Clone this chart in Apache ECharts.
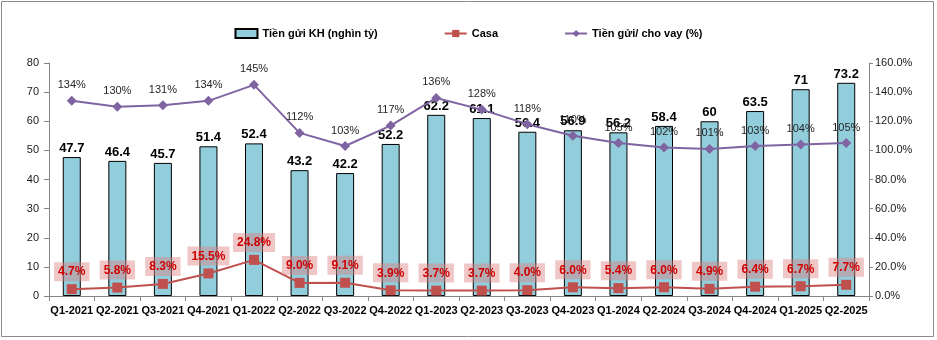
<!DOCTYPE html>
<html>
<head>
<meta charset="utf-8">
<script src="https://cdn.jsdelivr.net/npm/echarts@6/dist/echarts.min.js"></script>
<style>
html,body{margin:0;padding:0;background:#fff;}
#chart{width:937px;height:340px;}
</style>
</head>
<body>
<div id="chart"></div>
<script>
// Quarterly deposits, CASA ratio and deposit/loan ratio
const quarters = ['Q1-2021','Q2-2021','Q3-2021','Q4-2021','Q1-2022','Q2-2022','Q3-2022','Q4-2022','Q1-2023','Q2-2023','Q3-2023','Q4-2023','Q1-2024','Q2-2024','Q3-2024','Q4-2024','Q1-2025','Q2-2025'];
const deposits = [47.7,46.4,45.7,51.4,52.4,43.2,42.2,52.2,62.2,61.1,56.4,56.9,56.2,58.4,60,63.5,71,73.2];
const casa = [4.7,5.8,8.3,15.5,24.8,9.0,9.1,3.9,3.7,3.7,4.0,6.0,5.4,6.0,4.9,6.4,6.7,7.7];
const depositLoan = [134,130,131,134,145,112,103,117,136,128,118,110,105,102,101,103,104,105];
const leftTicks = [0,10,20,30,40,50,60,70,80];
const rightTicks = [0,20,40,60,80,100,120,140,160];

const FONT = 'Liberation Sans, Arial, sans-serif';
const chart = echarts.init(document.getElementById('chart'));
chart.setOption({
  animation: false,
  textStyle: { fontFamily: FONT },
  graphic: [{
    type: 'rect', silent: true,
    shape: { x: 1.5, y: 1.5, width: 932, height: 335 },
    style: { fill: 'none', stroke: '#8c8c8c', lineWidth: 1 }
  }],
  legend: {
    top: 23, left: 'center', itemGap: 66, itemWidth: 22, itemHeight: 9,
    textStyle: { fontSize: 11, fontWeight: 'bold', color: '#000', fontFamily: FONT },
    data: [
      { name: 'Tiền gửi KH (nghìn tỷ)', icon: 'rect' },
      { name: 'Casa' },
      { name: 'Tiền gửi/ cho vay (%)' }
    ]
  },
  grid: { left: 49, right: 68, top: 63, bottom: 44 },
  xAxis: {
    type: 'category', data: quarters,
    axisLine: { lineStyle: { color: '#868686', width: 1 } },
    axisTick: { show: true, length: 5, lineStyle: { color: '#868686' } },
    axisLabel: { fontSize: 11, fontWeight: 'bold', color: '#000', margin: 9, interval: 0 }
  },
  yAxis: [{
    type: 'value', min: leftTicks[0], max: leftTicks[leftTicks.length - 1], interval: 10,
    splitLine: { show: false },
    axisLine: { show: true, lineStyle: { color: '#868686' } },
    axisTick: { show: true, length: 5, lineStyle: { color: '#868686' } },
    axisLabel: { fontSize: 11, color: '#1a1a1a', margin: 10 }
  }, {
    type: 'value', min: rightTicks[0], max: rightTicks[rightTicks.length - 1], interval: 20,
    splitLine: { show: false },
    axisLine: { show: true, lineStyle: { color: '#868686' } },
    axisTick: { show: true, length: 4, lineStyle: { color: '#868686' } },
    axisLabel: { fontSize: 11, color: '#1a1a1a', margin: 6, formatter: v => v.toFixed(1) + '%' }
  }],
  series: [{
    name: 'Tiền gửi KH (nghìn tỷ)', type: 'bar', data: deposits, barWidth: 18, z: 2,
    itemStyle: { color: '#92CDDC', borderColor: '#000', borderWidth: 1 },
    label: { show: true, position: 'top', distance: 2, fontSize: 13, fontWeight: 'bold', color: '#000' }
  }, {
    name: 'Casa', type: 'line', yAxisIndex: 1, data: casa, z: 4,
    symbol: 'rect', symbolSize: 10,
    lineStyle: { color: '#C0504D', width: 2 },
    itemStyle: { color: '#C0504D' },
    label: {
      show: true, position: 'top', distance: 3, fontSize: 12, fontWeight: 'bold', color: '#D00000',
      backgroundColor: 'rgba(220,130,130,0.45)', padding: [4, 4, 3, 4],
      formatter: p => p.value.toFixed(1) + '%'
    }
  }, {
    name: 'Tiền gửi/ cho vay (%)', type: 'line', yAxisIndex: 1, data: depositLoan, z: 3,
    symbol: 'diamond', symbolSize: 10,
    lineStyle: { color: '#8064A2', width: 2 },
    itemStyle: { color: '#8064A2' },
    label: { show: true, position: 'top', distance: 5, fontSize: 11, color: '#262626', formatter: p => p.value + '%' }
  }]
});
</script>
</body>
</html>
